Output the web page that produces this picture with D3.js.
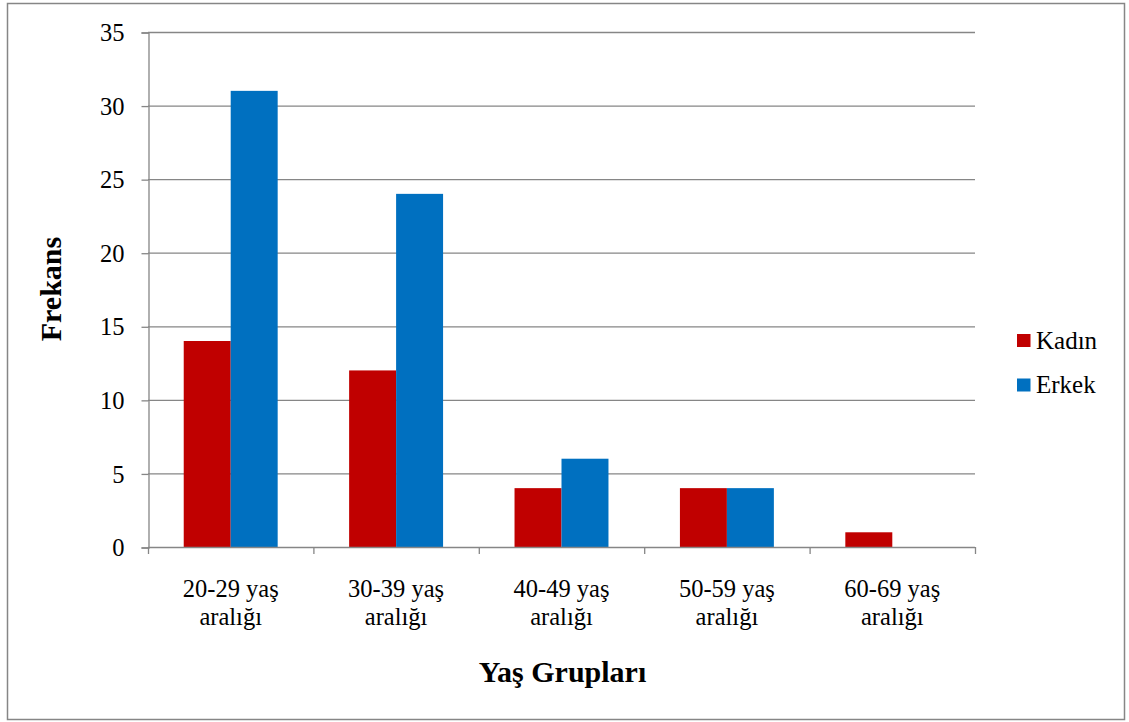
<!DOCTYPE html>
<html>
<head>
<meta charset="utf-8">
<script src="https://cdn.jsdelivr.net/npm/d3@7"></script>
<style>
  html, body { margin: 0; padding: 0; background: #fff; }
  svg { display: block; }
</style>
</head>
<body>
<svg id="chart" width="1129" height="722"></svg>
<script>
// Age groups (two-line labels) and counts per sex
const categories = ["20-29 yaş aralığı", "30-39 yaş aralığı", "40-49 yaş aralığı", "50-59 yaş aralığı", "60-69 yaş aralığı"];
const categoryLines = [["20-29 yaş", "aralığı"], ["30-39 yaş", "aralığı"], ["40-49 yaş", "aralığı"], ["50-59 yaş", "aralığı"], ["60-69 yaş", "aralığı"]];
const seriesNames = ["Kadın", "Erkek"];
const kadin = [14, 12, 4, 4, 1];
const erkek = [31, 24, 6, 4, 0];
const yTicks = [0, 5, 10, 15, 20, 25, 30, 35];
const colors = ["#C00000", "#0070C0"];

const FONT = "'Liberation Serif', 'Times New Roman', Times, serif";
const seriesValues = [kadin, erkek];
const rows = categories.map((c, i) => ({ cat: c, values: seriesNames.map((s, j) => ({ key: s, value: seriesValues[j][i] })) }));

const svg = d3.select("#chart");
const plot = { left: 148, right: 975, top: 32, bottom: 547 };

// Outer frame
svg.append("rect")
  .attr("x", 7.5).attr("y", 3.5).attr("width", 1117).attr("height", 716)
  .attr("fill", "#fff").attr("stroke", "#868686").attr("stroke-width", 1.5);

const x0 = d3.scaleBand().domain(categories).range([plot.left, plot.right]).padding(0);
const step = x0.bandwidth();
const x1 = d3.scaleBand().domain(seriesNames).range([step * 0.216, step * 0.784]).padding(0);
const y = d3.scaleLinear().domain([0, 35]).range([plot.bottom, plot.top]);

// Horizontal gridlines
svg.append("g")
  .selectAll("line")
  .data(yTicks.filter(t => t > 0))
  .join("line")
  .attr("x1", plot.left).attr("x2", plot.right)
  .attr("y1", d => y(d) + 0.5).attr("y2", d => y(d) + 0.5)
  .attr("stroke", "#868686").attr("stroke-width", 1.3);

// Bars
const groups = svg.append("g")
  .selectAll("g")
  .data(rows)
  .join("g")
  .attr("transform", d => `translate(${x0(d.cat)},0)`);

groups.selectAll("rect")
  .data(d => d.values)
  .join("rect")
  .attr("x", d => x1(d.key))
  .attr("y", d => y(d.value))
  .attr("width", x1.bandwidth())
  .attr("height", d => y(0) - y(d.value))
  .attr("fill", (d, i) => colors[i]);

// Y axis
const yAxis = d3.axisLeft(y).tickValues(yTicks).tickSize(7).tickPadding(17).tickFormat(d3.format("d"));
const gy = svg.append("g").attr("transform", `translate(${plot.left + 0.5},0.5)`).call(yAxis);
gy.attr("font-family", null).attr("font-size", null);
gy.select(".domain").attr("stroke", "#868686").attr("stroke-width", 1.3);
gy.selectAll(".tick line").attr("stroke", "#868686").attr("stroke-width", 1.3);
gy.selectAll(".tick text")
  .style("font-family", FONT).style("font-size", "24.5px")
  .attr("fill", "#000").attr("dy", "0.33em");

// X axis with tick marks at category boundaries
svg.append("line")
  .attr("x1", plot.left).attr("x2", plot.right)
  .attr("y1", plot.bottom + 0.5).attr("y2", plot.bottom + 0.5)
  .attr("stroke", "#868686").attr("stroke-width", 1.3);
const bounds = categories.map(c => x0(c)).concat([plot.right]);
svg.append("g").selectAll("line")
  .data(bounds)
  .join("line")
  .attr("x1", d => d + 0.5).attr("x2", d => d + 0.5)
  .attr("y1", plot.bottom).attr("y2", plot.bottom + 7)
  .attr("stroke", "#868686").attr("stroke-width", 1.3);

// Category labels (two lines)
const xl = svg.append("g").selectAll("text")
  .data(categories)
  .join("text")
  .attr("text-anchor", "middle")
  .style("font-family", FONT).style("font-size", "24.5px")
  .attr("fill", "#000")
  .attr("x", d => x0(d) + step / 2)
  .attr("y", 597);
xl.each(function(d, i) {
  const t = d3.select(this);
  categoryLines[i].forEach((line, k) => {
    t.append("tspan").attr("x", x0(d) + step / 2).attr("dy", k === 0 ? 0 : 28).text(line);
  });
});

// Axis titles
svg.append("text")
  .attr("x", (plot.left + plot.right) / 2 + 1).attr("y", 682)
  .attr("text-anchor", "middle")
  .style("font-family", FONT).style("font-size", "30px").style("font-weight", "bold")
  .text("Yaş Grupları");

svg.append("text")
  .attr("transform", `translate(61,289) rotate(-90)`)
  .attr("text-anchor", "middle")
  .style("font-family", FONT).style("font-size", "30px").style("font-weight", "bold")
  .text("Frekans");

// Legend
const legend = svg.append("g").selectAll("g")
  .data(seriesNames)
  .join("g")
  .attr("transform", (d, i) => `translate(1017,${334 + i * 44.5})`);
legend.append("rect").attr("width", 13.5).attr("height", 13).attr("fill", (d, i) => colors[i]);
legend.append("text").attr("x", 19).attr("y", 14.5)
  .style("font-family", FONT).style("font-size", "25px")
  .text(d => d);
</script>
</body>
</html>
